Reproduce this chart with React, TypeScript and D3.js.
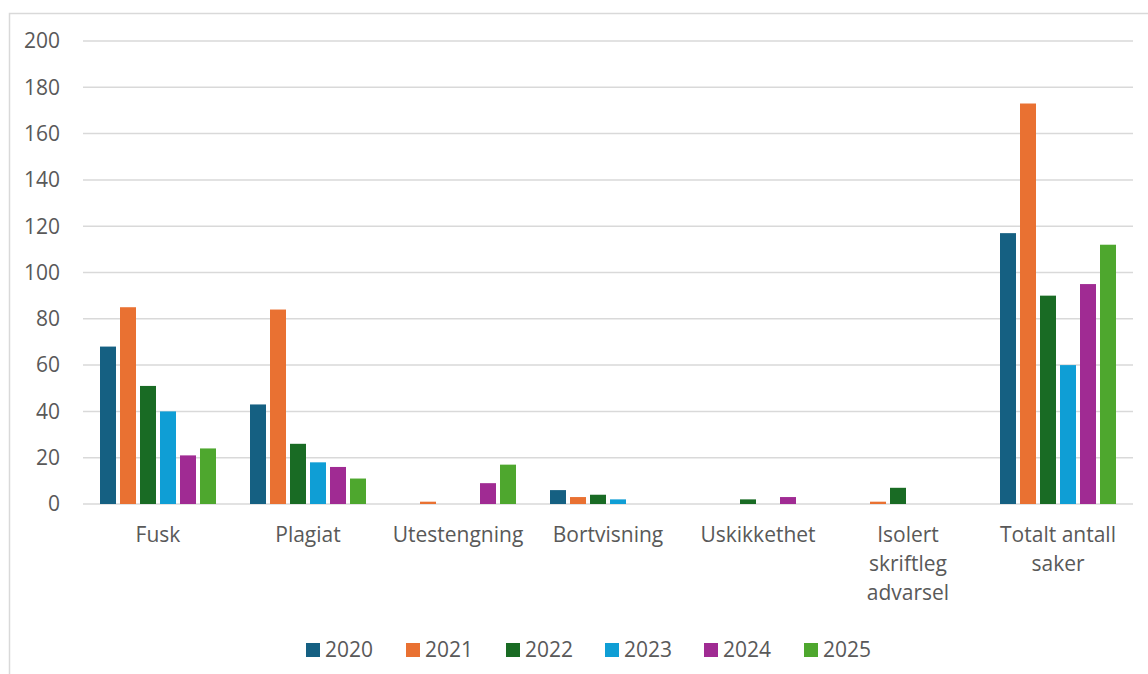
import React, { useEffect, useRef } from "react";
import * as d3 from "d3";

const categories = [
  ["Fusk"],
  ["Plagiat"],
  ["Utestengning"],
  ["Bortvisning"],
  ["Uskikkethet"],
  ["Isolert", "skriftleg", "advarsel"],
  ["Totalt antall", "saker"],
];
const years = ["2020", "2021", "2022", "2023", "2024", "2025"];
const colors = ["#156082", "#E97132", "#196B24", "#0F9ED5", "#A02B93", "#4EA72E"];

// one array per year, in category order
const v2020 = [68, 43, 0, 6, 0, 0, 117];
const v2021 = [85, 84, 1, 3, 0, 1, 173];
const v2022 = [51, 26, 0, 4, 2, 7, 90];
const v2023 = [40, 18, 0, 2, 0, 0, 60];
const v2024 = [21, 16, 9, 0, 3, 0, 95];
const v2025 = [24, 11, 17, 0, 0, 0, 112];
const series = [v2020, v2021, v2022, v2023, v2024, v2025];

const yTicks = [0, 20, 40, 60, 80, 100, 120, 140, 160, 180, 200];

const W = 1148, H = 674;
const FONT = "'Open Sans', sans-serif";
const FS = 21;

const App = () => {
  const svgRef = useRef<SVGSVGElement>(null);

  useEffect(() => {
    const svg = d3.select(svgRef.current);
    svg.selectAll("*").remove();

    const left = 83, right = 1133, top = 41, bottom = 504;

    // chart frame
    svg.append("rect")
      .attr("x", 9.5).attr("y", 13.5)
      .attr("width", 1150).attr("height", 680)
      .attr("fill", "#fff").attr("stroke", "#d9d9d9").attr("stroke-width", 1.5);

    const x = d3.scaleBand<number>()
      .domain(d3.range(categories.length))
      .range([left, right])
      .paddingInner(0).paddingOuter(0);
    const inner = d3.scaleBand<number>()
      .domain(d3.range(years.length))
      .range([0, 120]);
    const xOff = (x.bandwidth() - 120) / 2;
    const y = d3.scaleLinear().domain([0, 200]).range([bottom, top]);

    // gridlines
    svg.append("g").selectAll("line").data(yTicks).join("line")
      .attr("x1", left).attr("x2", right)
      .attr("y1", (d) => y(d)).attr("y2", (d) => y(d))
      .attr("stroke", "#d9d9d9").attr("stroke-width", 1.5);

    // y labels
    svg.append("g").selectAll("text").data(yTicks).join("text")
      .attr("x", 60).attr("y", (d) => y(d))
      .attr("dy", "0.35em")
      .attr("text-anchor", "end")
      .attr("font-family", FONT).attr("font-size", FS)
      .attr("fill", "#595959")
      .text((d) => d);

    // bars
    series.forEach((vals, si) => {
      svg.append("g").selectAll("rect").data(vals).join("rect")
        .attr("x", (_, i) => (x(i) as number) + xOff + (inner(si) as number) + 2)
        .attr("width", inner.bandwidth() - 4)
        .attr("y", (d) => y(d))
        .attr("height", (d) => y(0) - y(d))
        .attr("fill", colors[si]);
    });

    // category labels
    categories.forEach((lines, i) => {
      const cx = (x(i) as number) + x.bandwidth() / 2;
      const t = svg.append("text")
        .attr("x", cx)
        .attr("y", 542)
        .attr("text-anchor", "middle")
        .attr("font-family", FONT).attr("font-size", FS)
        .attr("fill", "#595959");
      lines.forEach((l, li) => {
        t.append("tspan")
          .attr("x", cx)
          .attr("dy", li === 0 ? 0 : 29)
          .text(l);
      });
    });

    // legend
    const legX = [306, 406, 506, 605, 704, 804];
    years.forEach((yr, i) => {
      svg.append("rect")
        .attr("x", legX[i]).attr("y", 643)
        .attr("width", 14).attr("height", 14)
        .attr("fill", colors[i]);
      svg.append("text")
        .attr("x", legX[i] + 19).attr("y", 650)
        .attr("dy", "0.35em")
        .attr("font-family", FONT).attr("font-size", FS)
        .attr("fill", "#595959")
        .text(yr);
    });
  }, []);

  return (
    <svg
      ref={svgRef}
      width={W}
      height={H}
      style={{ position: "absolute", left: 0, top: 0, display: "block" }}
    ></svg>
  );
};

export default App;
